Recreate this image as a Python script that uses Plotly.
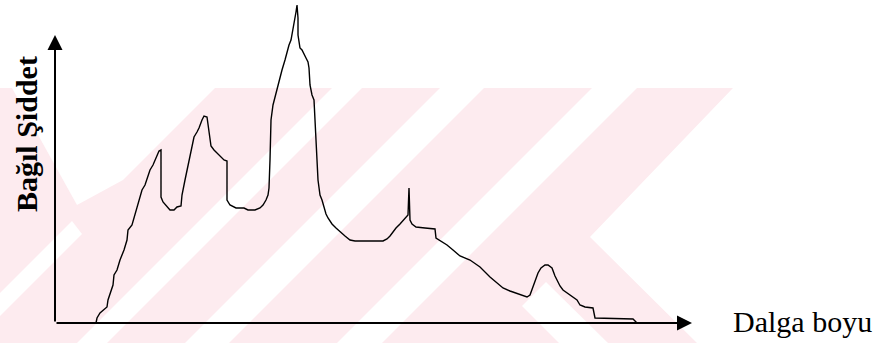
import plotly.graph_objects as go

# ---- data (arbitrary units) ----
# relative wavelength and relative intensity of the spectrum trace
wavelength = [
    41, 42, 45, 48, 52, 53, 55, 58, 59, 62,
    65, 69, 72, 73, 77, 80, 82, 85, 87, 90,
    93, 95, 98, 100, 102, 104, 106, 106, 108, 112,
    115, 119, 122, 126, 127, 130, 132, 135, 137, 139,
    142, 144, 147, 149, 152, 153, 155, 156, 159, 162,
    165, 169, 172, 172, 175, 181, 189, 193, 200, 205,
    208, 211, 213, 214, 215, 216, 218, 220, 222, 225,
    227, 230, 232, 234, 236, 238, 239, 240, 241, 242,
    243, 243, 244, 245, 247, 249, 251, 253, 254, 255,
    257, 259, 260, 261, 262, 263, 265, 267, 269, 271,
    273, 277, 281, 285, 290, 295, 300, 328, 332, 335,
    338, 341, 345, 349, 352, 353, 354, 355, 357, 361,
    370, 380, 381, 386, 392, 398, 405, 415, 425, 435,
    442, 448, 455, 465, 472, 475, 478, 481, 483, 486,
    490, 493, 497, 500, 502, 505, 508, 515, 522, 525,
    530, 538, 540, 578, 582,
]
intensity = [
    0, 5, 10, 13, 16, 23, 30, 38, 48, 53,
    63, 73, 83, 93, 98, 108, 116, 125, 133, 138,
    148, 153, 158, 163, 168, 172, 173, 126, 121, 117,
    113, 113, 116, 117, 128, 143, 153, 168, 178, 186,
    191, 195, 203, 207, 206, 198, 183, 177, 173, 170,
    166, 163, 162, 123, 118, 115, 115, 113, 113, 115,
    118, 123, 128, 135, 163, 203, 218, 226, 235, 246,
    253, 263, 271, 278, 283, 293, 298, 303, 311, 318,
    305, 288, 278, 275, 273, 268, 265, 261, 255, 238,
    228, 223, 198, 183, 163, 143, 128, 123, 115, 109,
    105, 99, 95, 91, 87, 83, 82, 82, 84, 87,
    91, 95, 99, 103, 106, 108, 135, 103, 99, 96,
    95, 94, 85, 82, 78, 73, 67, 63, 56, 46,
    40, 35, 32, 28, 26, 28, 36, 43, 50, 55,
    58, 58, 55, 47, 43, 37, 33, 28, 23, 18,
    16, 15, 5, 4, 0,
]

y_label = "<b>Bağıl Şiddet</b>"
x_label = "Dalga boyu"

# ---- geometry helpers (figure pixel -> paper) ----
W, H = 893, 343
def P(px, py):
    return px / W, 1 - py / H

def poly(points):
    pts = [P(x, y) for x, y in points]
    return "M " + " L ".join(f"{x:.5f},{y:.5f}" for x, y in pts) + " Z"

pink = "#FDEBEF"
shapes = []
# faint background watermark
shapes.append(dict(type="path", xref="paper", yref="paper", layer="below", line_width=0,
                   fillcolor=pink, path=poly([(0, 88), (733, 88), (590, 237), (697, 343), (0, 343)])))
white_polys = [
    [(12, 88), (215, 88), (123, 180), (77, 205)],
    [(0, 293), (72, 221), (82, 234), (0, 316)],
    [(332, 88), (362, 88), (107, 343), (77, 343)],
    [(440, 88), (484, 88), (229, 343), (185, 343)],
    [(592, 88), (637, 88), (382, 343), (337, 343)],
    [(522, 306), (546, 282), (608, 343), (559, 343)],
]
for wp in white_polys:
    shapes.append(dict(type="path", xref="paper", yref="paper", layer="below", line_width=0,
                       fillcolor="white", path=poly(wp)))

fig = go.Figure()
fig.add_trace(go.Scatter(x=wavelength, y=intensity, mode="lines",
                         line=dict(color="black", width=1.4), hoverinfo="skip"))

# axes with arrows (origin at 0,0 of the data scales)
x_end = 637
y_end = 288
annotations = [
    dict(x=0, y=y_end, ax=0, ay=0, xref="x", yref="y", axref="x", ayref="y", text="",
         showarrow=True, arrowhead=2, arrowsize=1.5, arrowwidth=2, arrowcolor="black"),
    dict(x=x_end, y=0, ax=0, ay=0, xref="x", yref="y", axref="x", ayref="y", text="",
         showarrow=True, arrowhead=2, arrowsize=1.5, arrowwidth=2, arrowcolor="black"),
    dict(x=26 / W, y=1 - 134 / H, xref="paper", yref="paper", text=y_label, textangle=-90,
         showarrow=False, xanchor="center", yanchor="middle",
         font=dict(family="Liberation Serif", size=30, color="black")),
    dict(x=802 / W, y=1 - 321 / H, xref="paper", yref="paper", text=x_label,
         showarrow=False, xanchor="center", yanchor="middle",
         font=dict(family="Liberation Serif", size=30, color="black")),
]

fig.update_layout(
    width=W, height=H, margin=dict(l=0, r=0, t=0, b=0),
    paper_bgcolor="white", plot_bgcolor="rgba(0,0,0,0)",
    showlegend=False, shapes=shapes, annotations=annotations,
    xaxis=dict(range=[-55, W - 55], visible=False, fixedrange=True),
    yaxis=dict(range=[-(H - 323), 323], visible=False, fixedrange=True),
)

fig.write_html("out.html", config={"displayModeBar": False},
               post_script="document.body.style.margin='0';document.body.style.overflow='hidden';")
